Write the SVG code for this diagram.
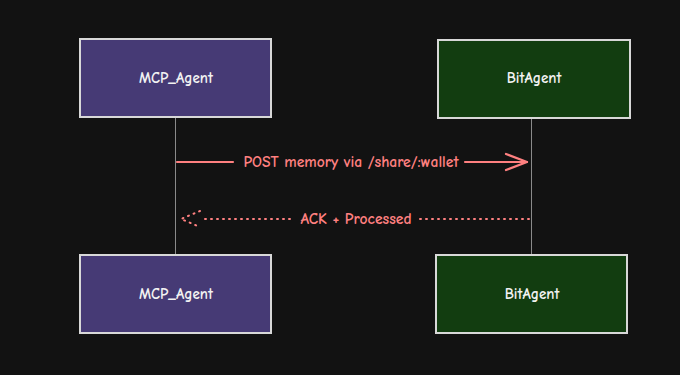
<svg xmlns="http://www.w3.org/2000/svg" width="680" height="375" viewBox="0 0 680 375">
<style>
.bg{fill:#121212}
.mcp{fill:#463a75;stroke:#d8d8d8;stroke-width:2}
.bit{fill:#123d10;stroke:#d8d8d8;stroke-width:2}
.lbl{font-family:"Comic Neue","DejaVu Sans",sans-serif;font-size:15px;font-weight:bold;fill:#f2f2f2;text-anchor:middle;dominant-baseline:central}
.life{stroke:#8a8a8a;stroke-width:1}
.msg{stroke:#ff8080;stroke-width:2.2;fill:none;stroke-linecap:round;stroke-linejoin:round}
.dot{stroke:#ff8080;stroke-width:2;fill:none;stroke-dasharray:1 5;stroke-linecap:round}
.mtxt{font-family:"Comic Neue","DejaVu Sans",sans-serif;font-size:15.6px;font-weight:bold;fill:#ff8080;text-anchor:middle;dominant-baseline:central}
</style>
<rect class="bg" x="0" y="0" width="680" height="375"/>
<g id="connectors">
<line class="life" x1="175.5" y1="117" x2="175.5" y2="255"/>
<line class="life" x1="531.5" y1="118" x2="531.5" y2="255"/>
<line class="msg" x1="177" y1="162" x2="233" y2="162"/>
<line class="msg" x1="465" y1="162" x2="527" y2="162"/>
<path class="msg" d="M506 154 L527 162 L506 170"/>
<text class="mtxt" x="351" y="162">POST memory via /share/:wallet</text>
<line class="dot" x1="205" y1="219" x2="292" y2="219"/>
<line class="dot" x1="420" y1="219" x2="531" y2="219"/>
<path class="dot" d="M200 211 L181 219 L200 227"/>
<text class="mtxt" x="356" y="219">ACK + Processed</text>
</g>
<g id="mcp_top"><rect class="mcp" x="80" y="39" width="191" height="78"/><text class="lbl" x="176" y="78">MCP_Agent</text></g>
<g id="bit_top"><rect class="bit" x="438" y="40" width="192" height="78"/><text class="lbl" x="534" y="78">BitAgent</text></g>
<g id="mcp_bottom"><rect class="mcp" x="80" y="255" width="191" height="78"/><text class="lbl" x="176" y="294">MCP_Agent</text></g>
<g id="bit_bottom"><rect class="bit" x="436" y="255" width="191" height="78"/><text class="lbl" x="532" y="294">BitAgent</text></g>
</svg>
